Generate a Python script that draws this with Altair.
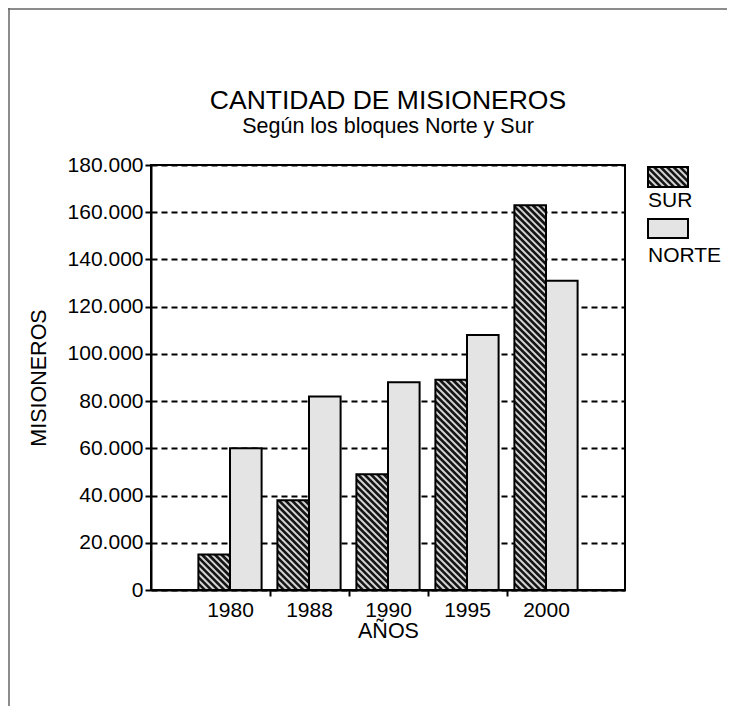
import altair as alt
import pandas as pd

# ---------------- data ----------------
YEARS = ["1980", "1988", "1990", "1995", "2000"]
SUR = [15000, 38000, 49000, 89000, 163000]
NORTE = [60000, 82000, 88000, 108000, 131000]
SERIES = ["SUR", "NORTE"]
Y_TICKS = [0, 20000, 40000, 60000, 80000, 100000, 120000, 140000, 160000, 180000]

# ---------------- layout ----------------
W, H = 474, 425
PAD_L, PAD_T, PAD_R, PAD_B = 143, 157, 102, 116
X_MAX = len(YEARS) + 1
Y_MAX = 180000
PXX = W / X_MAX          # px per x unit
PXY = H / Y_MAX          # px per y unit
BAR = 0.4                # bar width in x units
PERIOD = 6.5             # hatch period (px)
FONT = "Liberation Sans"
FILLS = ["#141414", "#e4e4e4"]

# ---------------- bar table ----------------
rows = []
for i, yr in enumerate(YEARS):
    for s, vals in (("SUR", SUR), ("NORTE", NORTE)):
        x0 = (i + 1) - BAR if s == "SUR" else (i + 1)
        rows.append({"year": yr, "serie": s, "x0": x0, "x1": x0 + BAR,
                     "y0": 0, "y1": vals[i]})
bars = pd.DataFrame(rows)

# legend swatches (pixel layout converted to data units)
def px_to_x(px):
    return px / PXX

def px_to_y(py):
    return (H - py) / PXY

LEG_X0, LEG_X1 = 497, 537
leg_rows = [
    {"serie": "SUR", "x0": px_to_x(LEG_X0), "x1": px_to_x(LEG_X1),
     "y0": px_to_y(22), "y1": px_to_y(2), "ty": px_to_y(42)},
    {"serie": "NORTE", "x0": px_to_x(LEG_X0), "x1": px_to_x(LEG_X1),
     "y0": px_to_y(73), "y1": px_to_y(54), "ty": px_to_y(97)},
]
legend = pd.DataFrame(leg_rows)


def hatch(df):
    segs = []
    for _, r in df[df.serie == "SUR"].iterrows():
        w = (r.x1 - r.x0) * PXX
        h = (r.y1 - r.y0) * PXY
        a = PERIOD / 2
        while a < w + h:
            us = max(0.0, a - h)
            ue = min(w, a)
            if ue > us:
                segs.append({"hx0": r.x0 + us / PXX, "hy0": r.y0 + (a - us) / PXY,
                             "hx1": r.x0 + ue / PXX, "hy1": r.y0 + (a - ue) / PXY})
            a += PERIOD
    return pd.DataFrame(segs)


hatch_df = pd.concat([hatch(bars), hatch(legend)], ignore_index=True)

# ---------------- encodings ----------------
xscale = alt.Scale(domain=[0, X_MAX], nice=False, zero=False)
yscale = alt.Scale(domain=[0, Y_MAX], nice=False)
color = alt.Color("serie:N", scale=alt.Scale(domain=SERIES, range=FILLS), legend=None)

label_expr = "''"
for i, yr in reversed(list(enumerate(YEARS))):
    label_expr = f"datum.value == {i + 1} ? '{yr}' : ({label_expr})"

x_values = []
for i in range(len(YEARS)):
    x_values.append(i + 1)
    if i < len(YEARS) - 1:
        x_values.append(i + 1.5)

x_axis = alt.Axis(
    values=x_values, labelExpr=label_expr, grid=False, title="AÑOS",
    tickOpacity={"condition": {"test": "datum.value % 1 == 0", "value": 0}, "value": 1},
    tickSize=6, labelPadding=3, titlePadding=0, labelFontSize=21,
)
y_axis = alt.Axis(
    values=Y_TICKS, labelExpr="replace(format(datum.value, ','), ',', '.')",
    grid=True, gridDash=[6, 4], gridColor="black", gridWidth=2, gridOpacity=1,
    title="MISIONEROS", tickSize=6, labelPadding=2, titlePadding=17, labelFontSize=21,
)

base_bars = alt.Chart(bars).mark_rect(strokeWidth=0).encode(
    x=alt.X("x0:Q", scale=xscale, axis=x_axis),
    x2="x1:Q",
    y=alt.Y("y1:Q", scale=yscale, axis=y_axis),
    y2="y0:Q",
    color=color,
)

leg_fill = alt.Chart(legend).mark_rect(strokeWidth=0).encode(
    x=alt.X("x0:Q", scale=xscale), x2="x1:Q",
    y=alt.Y("y1:Q", scale=yscale), y2="y0:Q", color=color,
)

hatch_layer = alt.Chart(hatch_df).mark_rule(color="#d4d4d4", strokeWidth=2).encode(
    x=alt.X("hx0:Q", scale=xscale), y=alt.Y("hy0:Q", scale=yscale),
    x2="hx1:Q", y2="hy1:Q",
)

outline = alt.Chart(bars).mark_rect(fillOpacity=0, stroke="black", strokeWidth=2).encode(
    x=alt.X("x0:Q", scale=xscale), x2="x1:Q",
    y=alt.Y("y1:Q", scale=yscale), y2="y0:Q",
)

leg_outline = alt.Chart(legend).mark_rect(fillOpacity=0, stroke="black", strokeWidth=2).encode(
    x=alt.X("x0:Q", scale=xscale), x2="x1:Q",
    y=alt.Y("y1:Q", scale=yscale), y2="y0:Q",
)
leg_text = alt.Chart(legend).mark_text(
    align="left", baseline="alphabetic", font=FONT, fontSize=21, color="black"
).encode(
    x=alt.X("x0:Q", scale=xscale), y=alt.Y("ty:Q", scale=yscale), text="serie:N",
)

one = pd.DataFrame({"k": [0]})
border_top = alt.Chart(one).mark_rule(color="#666666", strokeWidth=1.5).encode(
    x=alt.value(-PAD_L), x2=alt.value(W + PAD_R), y=alt.value(-PAD_T + 1),
)
border_left = alt.Chart(one).mark_rule(color="#666666", strokeWidth=1.5).encode(
    x=alt.value(-PAD_L + 1), y=alt.value(-PAD_T), y2=alt.value(H + PAD_B),
)

chart = alt.layer(
    base_bars, leg_fill, hatch_layer, outline, leg_outline, leg_text,
    border_top, border_left,
).properties(
    width=W, height=H,
    background="white",
    autosize=alt.AutoSizeParams(type="none"),
    padding={"left": PAD_L, "top": PAD_T, "right": PAD_R, "bottom": PAD_B},
    title=alt.TitleParams(
        text="CANTIDAD DE MISIONEROS", subtitle="Según los bloques Norte y Sur",
        font=FONT, subtitleFont=FONT, fontSize=26.5, subtitleFontSize=21.5,
        fontWeight="normal", color="black", subtitleColor="black",
        anchor="middle", frame="group", offset=0, dy=130, subtitlePadding=1,
    ),
).configure_view(
    stroke="black", strokeWidth=2,
).configure_axis(
    domainColor="black", domainWidth=2, tickColor="black", tickWidth=2,
    labelFont=FONT, labelColor="black", titleFont=FONT, titleFontSize=21.5,
    titleFontWeight="normal", titleColor="black",
)

chart.save("out.html", embed_options={"renderer": "svg", "actions": False})
